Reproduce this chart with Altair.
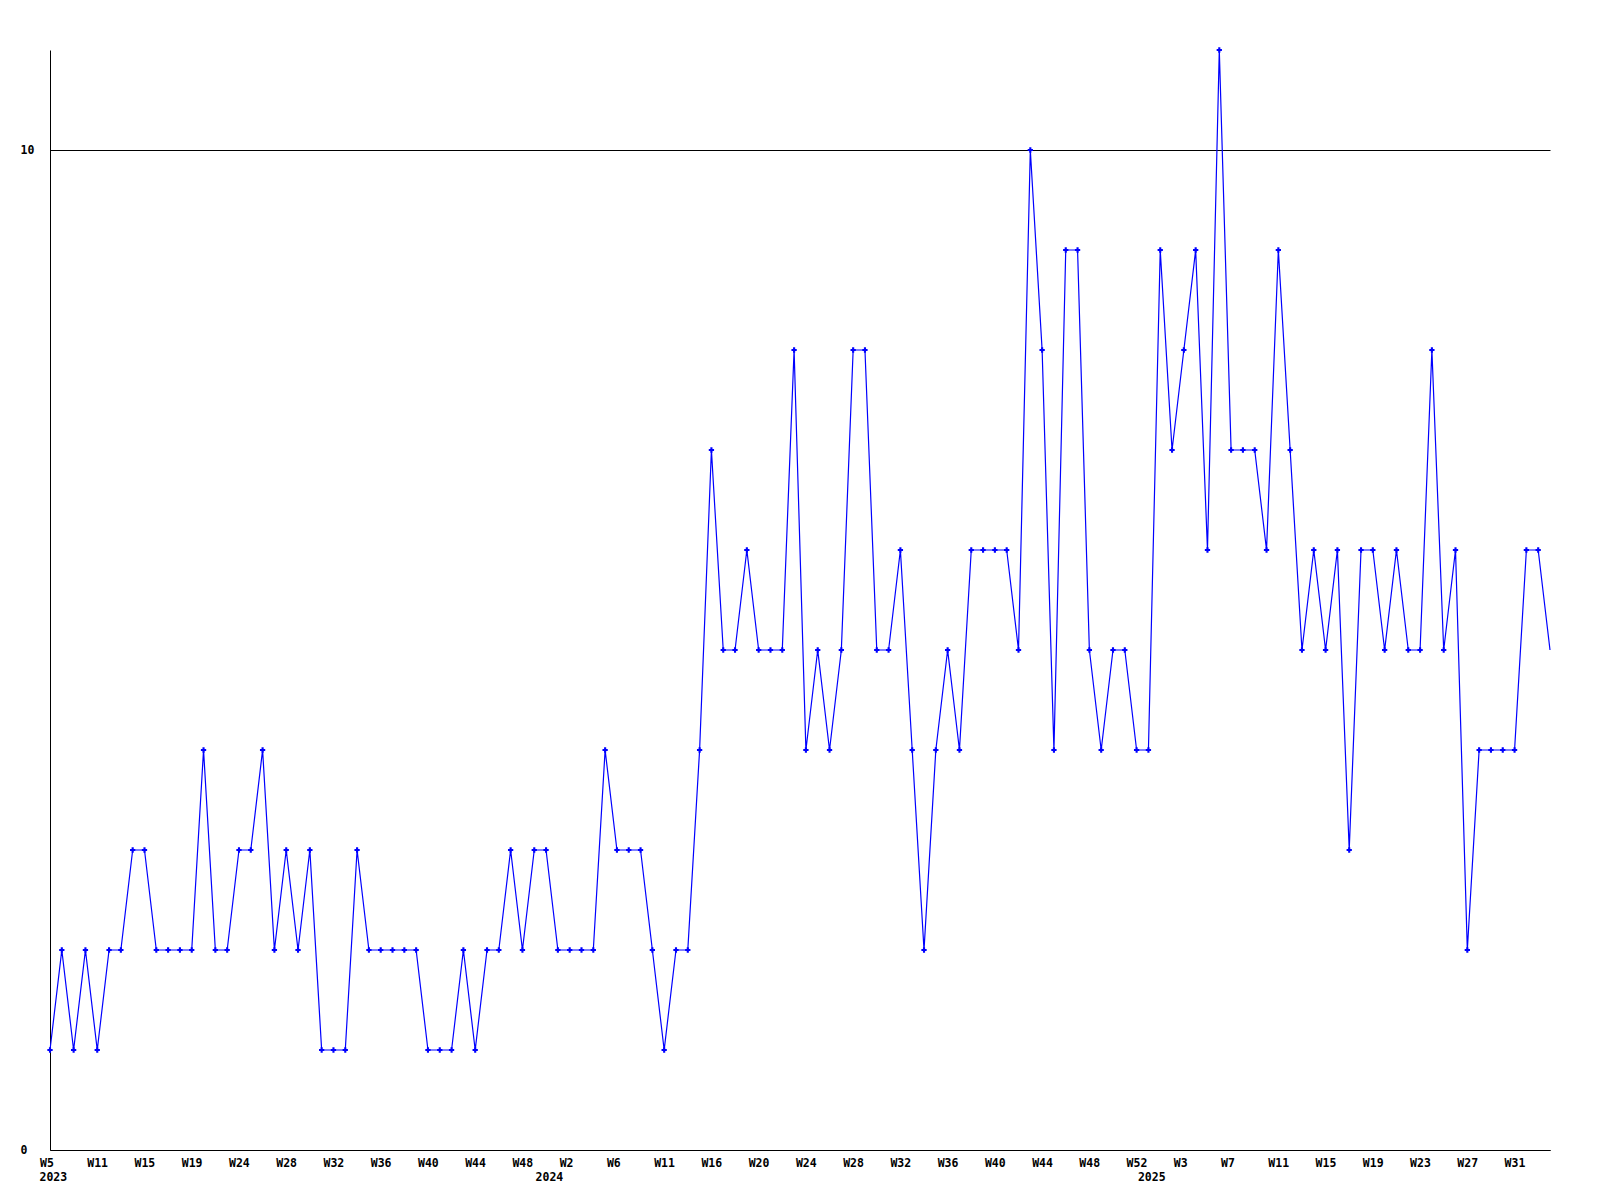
import altair as alt
import pandas as pd

# weekly values, 2023 W5 onwards
values = [
    1, 2, 1, 2, 1, 2, 2, 3, 3, 2,
    2, 2, 2, 4, 2, 2, 3, 3, 4, 2,
    3, 2, 3, 1, 1, 1, 3, 2, 2, 2,
    2, 2, 1, 1, 1, 2, 1, 2, 2, 3,
    2, 3, 3, 2, 2, 2, 2, 4, 3, 3,
    3, 2, 1, 2, 2, 4, 7, 5, 5, 6,
    5, 5, 5, 8, 4, 5, 4, 5, 8, 8,
    5, 5, 6, 4, 2, 4, 5, 4, 6, 6,
    6, 6, 5, 10, 8, 4, 9, 9, 5, 4,
    5, 5, 4, 4, 9, 7, 8, 9, 6, 11,
    7, 7, 7, 6, 9, 7, 5, 6, 5, 6,
    3, 6, 6, 5, 6, 5, 5, 8, 5, 6,
    2, 4, 4, 4, 4, 6, 6, 5,
]

# x tick labels, one every 4th point
week_labels = [
    "W5", "W11", "W15", "W19", "W24", "W28", "W32", "W36", "W40", "W44", "W48",
    "W2", "W6", "W11", "W16", "W20", "W24", "W28", "W32", "W36", "W40", "W44", "W48", "W52",
    "W3", "W7", "W11", "W15", "W19", "W23", "W27", "W31",
]
tick_step = 4

year_labels = ["2023", "2024", "2025"]
year_index = [0, 42, 93]

y_ticks = [0, 10]
y_max = 11

n = len(values)
df = pd.DataFrame({"i": list(range(n)), "v": values})
years_df = pd.DataFrame({"i": year_index, "label": year_labels})

W, H = 1500, 1100
FONT = "DejaVu Sans Mono"
label_expr = "[" + ",".join(f"'{w}'" for w in week_labels) + f"][round(datum.value / {tick_step})]"

x_enc = alt.X(
    "i:Q",
    scale=alt.Scale(domain=[0, n - 1], nice=False, zero=False),
    axis=alt.Axis(
        values=list(range(0, n, tick_step)),
        labelExpr=label_expr,
        title=None,
        ticks=False,
        grid=False,
        domainColor="black",
        domainWidth=1,
        labelAlign="left",
        labelOffset=-10.5,
        labelBaseline="top",
        labelPadding=7,
        labelFlush=False,
        labelOverlap=False,
        labelBound=False,
        labelFont=FONT,
        labelFontSize=11.5,
        labelFontWeight="bold",
        labelColor="black",
    ),
)

y_enc = alt.Y(
    "v:Q",
    scale=alt.Scale(domain=[0, y_max], nice=False, zero=True),
    axis=alt.Axis(
        values=y_ticks,
        title=None,
        ticks=False,
        grid=True,
        gridColor="black",
        gridOpacity=1,
        gridWidth=1,
        domainColor="black",
        domainWidth=1,
        labelAlign="left",
        labelBaseline="middle",
        labelPadding=30,
        labelFont=FONT,
        labelFontSize=11.5,
        labelFontWeight="bold",
        labelColor="black",
    ),
)

line = alt.Chart(df).mark_line(color="#0000FF", strokeWidth=1.2).encode(x=x_enc, y=y_enc)
points = (
    alt.Chart(df)
    .transform_filter(f"datum.i < {n - 1}")
    .mark_point(shape="cross", filled=True, size=28, color="#0000FF", opacity=1)
    .encode(x=x_enc, y=y_enc)
)
years = (
    alt.Chart(years_df)
    .mark_text(align="left", baseline="top", dx=-10.5, font=FONT, fontSize=11.5,
               fontWeight="bold", color="black")
    .encode(x=x_enc, y=alt.value(H + 22), text="label:N")
)

chart = (
    alt.layer(line, points, years)
    .properties(
        width=W,
        height=H,
        autosize=alt.AutoSizeParams(type="none"),
        padding={"left": 42, "top": 42, "right": 42, "bottom": 42},
    )
    .configure_view(strokeWidth=0)
)

chart.save("out.html", embed_options={"renderer": "svg", "actions": False})
